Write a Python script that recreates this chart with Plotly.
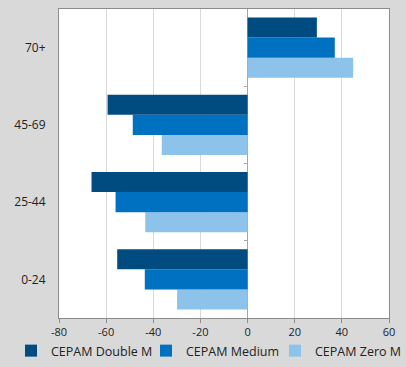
import plotly.graph_objects as go

categories = ["0-24", "25-44", "45-69", "70+"]
double_m = [-55.3, -66.2, -59.4, 29.4]
medium = [-43.6, -56.0, -48.7, 37.0]
zero_m = [-29.9, -43.4, -36.4, 44.8]
x_ticks = [-80, -60, -40, -20, 0, 20, 40, 60]
x_tick_labels = ["-80", "-60", "-40", "-20", "0", "20", "40", "60"]

series = [
    ("CEPAM Zero M", zero_m, "#8DC3EA", "legend3"),
    ("CEPAM Medium", medium, "#0070C0", "legend2"),
    ("CEPAM Double M", double_m, "#004B80", "legend"),
]

fig = go.Figure()
for name, vals, color, lg in series:
    fig.add_trace(go.Bar(
        y=categories, x=vals, name=name, orientation="h",
        marker=dict(color=color, line=dict(width=0)),
        legend=lg,
    ))

# helper trace so the category-boundary tick axis at x=0 is drawn
fig.add_trace(go.Scatter(x=[None], y=[None], yaxis="y2", mode="markers",
                         showlegend=False, hoverinfo="skip"))

def leg(xpx):
    return dict(orientation="h", xref="container", x=xpx / 406, xanchor="left",
                yref="container", y=1 / 367, yanchor="bottom",
                font=dict(size=12.5, color="#222222"), itemwidth=30, tracegroupgap=0,
                bgcolor="rgba(0,0,0,0)", borderwidth=0)

x_min, x_max = x_ticks[0], x_ticks[-1]
zero_pos = (0 - x_min) / (x_max - x_min)
boundaries = [i + 0.5 for i in range(len(categories) - 1)]

fig.update_layout(
    width=406, height=367,
    margin=dict(l=59, r=17, t=9, b=49, autoexpand=False),
    paper_bgcolor="#D9D9D9",
    plot_bgcolor="white",
    barmode="group",
    bargap=0.22,
    bargroupgap=0,
    font=dict(family="Open Sans", size=11, color="#222222"),
    showlegend=True,
    legend=leg(11),
    legend2=leg(146),
    legend3=leg(275),
    xaxis=dict(range=[x_min, x_max], tickvals=x_ticks, ticktext=x_tick_labels,
               showgrid=True, gridcolor="#D9D9D9",
               gridwidth=1, zeroline=True, zerolinecolor="#A6A6A6", zerolinewidth=1,
               showline=True, linecolor="#8C8C8C", mirror=True,
               ticks="outside", ticklen=4, tickcolor="#8C8C8C",
               tickfont=dict(size=11), automargin=False),
    yaxis=dict(showline=True, linecolor="#8C8C8C", mirror=True, showgrid=False,
               ticks="", ticklabelstandoff=10, tickfont=dict(size=12),
               automargin=False, range=[-0.5, len(categories) - 0.5]),
    yaxis2=dict(overlaying="y", anchor="free", position=zero_pos, side="left",
                type="linear",
                range=[-0.5, len(categories) - 0.5], tickvals=boundaries,
                ticks="outside", ticklen=4, tickcolor="#A6A6A6",
                showticklabels=False, showgrid=False, zeroline=False,
                showline=False, automargin=False),
)

fig.write_html("out.html", config={"displayModeBar": False},
               post_script="document.body.style.margin='0';")
